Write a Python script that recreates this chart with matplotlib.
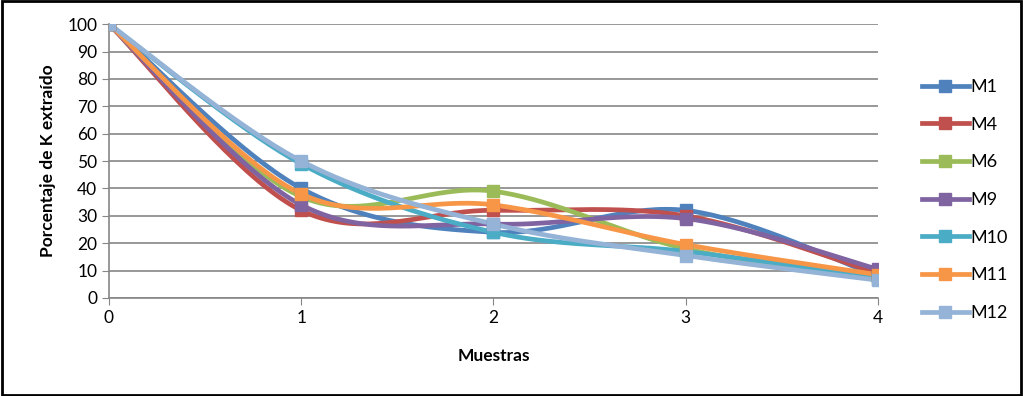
import numpy as np
import matplotlib

matplotlib.use("Agg")
import matplotlib.pyplot as plt
from matplotlib.patches import Rectangle

plt.rcParams["font.family"] = ["Lato", "DejaVu Sans"]

# values
muestras = [0, 1, 2, 3, 4]
series = ["M1", "M4", "M6", "M9", "M10", "M11", "M12"]
m1 = [100, 40, 24, 32, 8]
m4 = [100, 32, 32, 30, 9]
m6 = [100, 37, 39, 18, 7]
m9 = [100, 34, 27, 29, 10.5]
m10 = [100, 49, 24, 17, 7.5]
m11 = [100, 38, 34, 19.5, 8.5]
m12 = [100, 50, 27, 15.5, 6.5]
values = [m1, m4, m6, m9, m10, m11, m12]
colors = ["#4F81BD", "#C0504D", "#9BBB59", "#8064A2", "#4BACC6", "#F79646", "#95B3D7"]


def smooth(x, y, n=40):
    # Excel-style smoothed line (Catmull-Rom through the points)
    x = np.asarray(x, float)
    y = np.asarray(y, float)
    px = np.concatenate([[x[0]], x, [x[-1]]])
    py = np.concatenate([[y[0]], y, [y[-1]]])
    xs, ys = [], []
    for i in range(1, len(px) - 2):
        p0, p1, p2, p3 = (np.array([px[j], py[j]]) for j in range(i - 1, i + 3))
        c1 = p1 + (p2 - p0) / 6
        c2 = p2 - (p3 - p1) / 6
        t = np.linspace(0, 1, n)[:, None]
        b = (1 - t) ** 3 * p1 + 3 * (1 - t) ** 2 * t * c1 + 3 * (1 - t) * t**2 * c2 + t**3 * p2
        xs.extend(b[:, 0])
        ys.extend(b[:, 1])
    return xs, ys


fig = plt.figure(figsize=(10.23, 3.96), dpi=100)
ax = fig.add_axes([0.1065, 0.2475, 0.7517, 0.6915])

for name, v, c in zip(series, values, colors):
    sx, sy = smooth(muestras, v)
    ax.plot(sx, sy, color=c, lw=3.4, solid_capstyle="round", zorder=3)
    ax.plot(muestras, v, ls="none", marker="s", ms=8.5, color=c, zorder=4)
    ax.plot([], [], color=c, lw=3.4, marker="s", ms=8.5, label=name)

ax.set_xlim(0, 4)
ax.set_ylim(0, 100)
ax.set_xticks(muestras)
ax.set_yticks(range(0, 101, 10))
ax.grid(axis="y", color="#868686", lw=1.2)
ax.set_axisbelow(True)
for s in ["top", "right"]:
    ax.spines[s].set_visible(False)
for s in ["left", "bottom"]:
    ax.spines[s].set_color("#868686")
    ax.spines[s].set_linewidth(1.2)
ax.tick_params(colors="#868686", labelcolor="black", labelsize=12.5, length=5)
ax.set_xlabel("Muestras", fontsize=12.5, fontweight="bold", labelpad=16)
ax.set_ylabel("Porcentaje de K extraído", fontsize=12.5, fontweight="bold", labelpad=8)

leg = fig.legend(
    loc="center left",
    bbox_to_anchor=(0.885, 0.495),
    frameon=False,
    fontsize=13,
    handlelength=2.6,
    labelspacing=1.2,
    handletextpad=0.1,
)

fig.patches.append(
    Rectangle((0.002, 0.003), 0.996, 0.994, transform=fig.transFigure,
              fill=False, edgecolor="black", lw=2)
)

fig.savefig("out.png", dpi=100)
